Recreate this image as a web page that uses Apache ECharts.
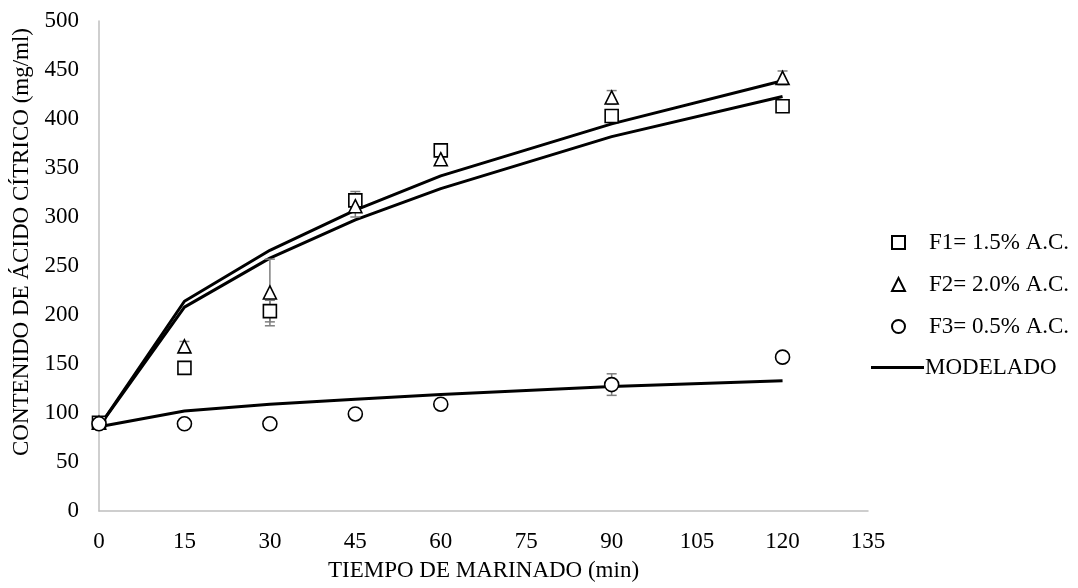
<!DOCTYPE html>
<html>
<head>
<meta charset="utf-8">
<script src="https://cdn.jsdelivr.net/npm/echarts@6/dist/echarts.min.js"></script>
<style>
  html, body { margin: 0; padding: 0; background: #fff; }
  #chart { width: 1078px; height: 588px; }
</style>
</head>
<body>
<div id="chart"></div>
<script>
// marinating time (min)
var times = [0, 15, 30, 45, 60, 90, 120];

// measured values
var f1 = [90, 146, 204, 317, 368, 403, 413];
var f2 = [90, 168, 223, 311, 359, 422, 442];
var f3 = [89, 89, 89, 99, 109, 129, 157];

// error bars (+/-)
var f1Err = [0, 0, 11, 9, 3, 3, 0];
var f2Err = [0, 5, 34, 11, 3, 7, 7];
var f3Err = [0, 0, 0, 0, 0, 11, 4];

// model curves
var modelF1 = [86, 208, 258, 297, 329, 382, 423];
var modelF2 = [86, 214, 266, 307, 342, 395, 439];
var modelF3 = [86, 102, 109, 114, 119, 127, 133];

var font = 'Liberation Serif';
var fs = 23;

function pairs(ys) {
    return times.map(function (t, i) { return [t, ys[i]]; });
}
function errData(ys, errs) {
    return times.map(function (t, i) { return [t, ys[i], errs[i]]; });
}

function renderErr(params, api) {
    var x = api.value(0), y = api.value(1), e = api.value(2);
    if (!e) return;
    var top = api.coord([x, y + e]);
    var bot = api.coord([x, y - e]);
    var style = { stroke: '#7f7f7f', lineWidth: 1.5 };
    var cap = 5;
    return {
        type: 'group',
        children: [
            { type: 'line', shape: { x1: top[0], y1: top[1], x2: bot[0], y2: bot[1] }, style: style },
            { type: 'line', shape: { x1: top[0] - cap, y1: top[1], x2: top[0] + cap, y2: top[1] }, style: style },
            { type: 'line', shape: { x1: bot[0] - cap, y1: bot[1], x2: bot[0] + cap, y2: bot[1] }, style: style }
        ]
    };
}

function modelSeries(ys) {
    return {
        name: 'MODELADO',
        type: 'line',
        data: pairs(ys),
        symbol: 'none',
        lineStyle: { color: '#000', width: 3 },
        itemStyle: { color: '#000' },
        z: 2,
        silent: true
    };
}

function pointSeries(name, ys, symbol, size) {
    return {
        name: name,
        type: 'scatter',
        data: pairs(ys),
        symbol: symbol,
        symbolSize: size,
        itemStyle: { color: '#fff', borderColor: '#000', borderWidth: 1.6, opacity: 1 },
        z: 4
    };
}

function errSeries(ys, errs) {
    return {
        type: 'custom',
        data: errData(ys, errs),
        renderItem: renderErr,
        encode: { x: 0, y: 1 },
        z: 3,
        silent: true
    };
}

var myChart = echarts.init(document.getElementById('chart'));

var option = {
    backgroundColor: '#fff',
    animation: false,
    textStyle: { fontFamily: font, color: '#000' },
    grid: { left: 99, right: 210, top: 21, bottom: 77 },
    legend: [{
        orient: 'vertical',
        left: 891,
        top: 231,
        padding: 0,
        itemWidth: 13,
        itemHeight: 13,
        itemGap: 19,
        data: ['F1= 1.5% A.C.', 'F2= 2.0% A.C.', 'F3= 0.5% A.C.'],
        textStyle: { fontFamily: font, fontSize: fs, color: '#000', padding: [0, 0, 0, 19] }
    }, {
        orient: 'vertical',
        left: 871,
        top: 356,
        padding: 0,
        itemWidth: 53,
        itemHeight: 3,
        data: [{ name: 'MODELADO', icon: 'rect' }],
        textStyle: { fontFamily: font, fontSize: fs, color: '#000', padding: [0, 0, 0, -4] }
    }],
    xAxis: {
        type: 'value',
        min: 0,
        max: 135,
        interval: 15,
        name: 'TIEMPO DE MARINADO (min)',
        nameLocation: 'middle',
        nameGap: 48,
        nameTextStyle: { fontFamily: font, fontSize: fs, color: '#000' },
        axisLine: { lineStyle: { color: '#bfbfbf', width: 1.5 } },
        axisTick: { show: false },
        splitLine: { show: false },
        axisLabel: { fontFamily: font, fontSize: fs, color: '#000', margin: 19 }
    },
    yAxis: {
        type: 'value',
        min: 0,
        max: 500,
        interval: 50,
        name: 'CONTENIDO DE ÁCIDO CÍTRICO (mg/ml)',
        nameLocation: 'middle',
        nameGap: 61,
        nameTextStyle: { fontFamily: font, fontSize: fs, color: '#000', padding: [0, 0, 0, 48] },
        axisLine: { show: true, lineStyle: { color: '#bfbfbf', width: 1.5 } },
        axisTick: { show: false },
        splitLine: { show: false },
        axisLabel: { fontFamily: font, fontSize: fs, color: '#000', margin: 20 }
    },
    series: [
        modelSeries(modelF1),
        modelSeries(modelF2),
        modelSeries(modelF3),
        errSeries(f1, f1Err),
        errSeries(f2, f2Err),
        errSeries(f3, f3Err),
        pointSeries('F1= 1.5% A.C.', f1, 'rect', 13),
        pointSeries('F2= 2.0% A.C.', f2, 'triangle', 13),
        pointSeries('F3= 0.5% A.C.', f3, 'circle', 14)
    ]
};

myChart.setOption(option);
</script>
</body>
</html>
